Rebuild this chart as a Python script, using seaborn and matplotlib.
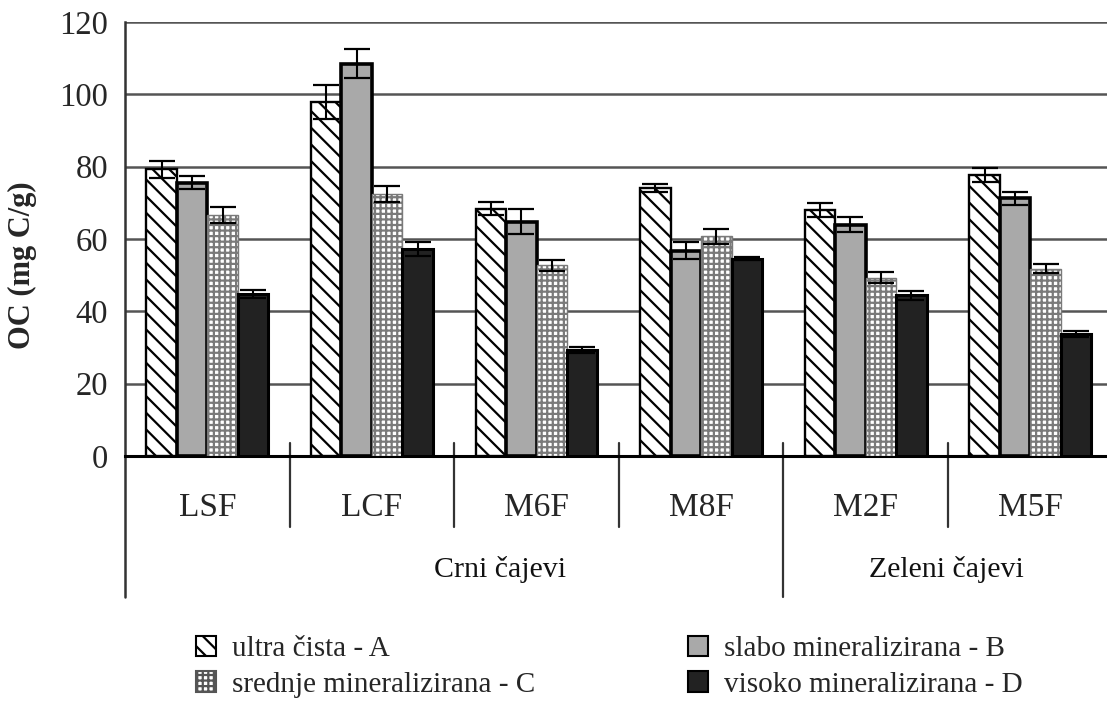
import matplotlib
matplotlib.use('Agg')
import matplotlib.pyplot as plt
import matplotlib.transforms as mtransforms
import seaborn as sns
import pandas as pd
from matplotlib.patches import Patch

categories = ['LSF', 'LCF', 'M6F', 'M8F', 'M2F', 'M5F']
series_names = ['ultra čista - A', 'slabo mineralizirana - B',
                'srednje mineralizirana - C', 'visoko mineralizirana - D']
vals_A = [79.3, 98.0, 68.3, 74.2, 68.0, 77.7]
vals_B = [75.6, 108.4, 64.8, 56.8, 64.0, 71.2]
vals_C = [66.6, 72.4, 52.7, 60.7, 49.3, 51.8]
vals_D = [44.8, 57.3, 29.4, 54.5, 44.4, 33.8]
err_A = [2.4, 4.7, 1.8, 1.1, 1.9, 2.0]
err_B = [1.7, 4.0, 3.4, 2.4, 2.1, 1.9]
err_C = [2.2, 2.2, 1.5, 2.1, 1.6, 1.3]
err_D = [1.0, 2.0, 0.8, 0.4, 1.3, 0.8]
group_names = ['Crni čajevi', 'Zeleni čajevi']
yticks = [0, 20, 40, 60, 80, 100, 120]
ylabel = 'OC (mg C/g)'

values = [vals_A, vals_B, vals_C, vals_D]
errors = [err_A, err_B, err_C, err_D]

rows = []
for s, vals in zip(series_names, values):
    for c, v in zip(categories, vals):
        rows.append({'cat': c, 'series': s, 'val': v})
df = pd.DataFrame(rows)

sns.set_theme(style='white')
plt.rcParams['font.family'] = ['Liberation Serif', 'DejaVu Serif']
plt.rcParams['hatch.linewidth'] = 1.6

W, H = 1107, 709
fig = plt.figure(figsize=(W / 100, H / 100), dpi=100)
ax_left, ax_right, ax_top, ax_bot = 125, 1107, 22, 456
ax = fig.add_axes([ax_left / W, 1 - ax_bot / H, (ax_right - ax_left) / W, (ax_bot - ax_top) / H])

face = ['white', '#a9a9a9', 'white', '#222222']
edge = ['black', 'black', '#7a7a7a', 'black']
lws = [1.7, 2.6, 1.0, 2.2]
BS = chr(92)
hatches = [BS * 2, None, '+++', None]

sns.barplot(data=df, x='cat', y='val', hue='series', order=categories,
            hue_order=series_names, width=0.74, gap=0, errorbar=None,
            palette=face, saturation=1, legend=False, ax=ax)

bar_containers = list(ax.containers)
for i, cont in enumerate(bar_containers):
    xs = []
    for bar in cont.patches:
        bar.set_facecolor(face[i])
        bar.set_edgecolor(edge[i])
        bar.set_linewidth(lws[i])
        if hatches[i]:
            bar.set_hatch(hatches[i])
        bar.set_zorder(3)
        xs.append(bar.get_x() + bar.get_width() / 2)
    ax.errorbar(xs, values[i], yerr=errors[i], fmt='none', ecolor='black',
                elinewidth=1.5, capsize=9.5, capthick=1.6, zorder=5)

group_px = 164.6
ax.set_xlim(-0.5, -0.5 + (ax_right - ax_left) / group_px)
ax.set_ylim(0, 120)
ax.set_yticks(yticks)
ax.set_yticklabels([str(t) for t in yticks])
ax.yaxis.grid(True, color='#555555', lw=1.8)
ax.set_axisbelow(True)
ax.set_xlabel('')
ax.set_ylabel('')
for s in ['top', 'right']:
    ax.spines[s].set_visible(False)
ax.spines['left'].set_color('#333333')
ax.spines['left'].set_linewidth(1.8)
ax.spines['bottom'].set_color('black')
ax.spines['bottom'].set_linewidth(2.2)
ax.tick_params(axis='y', length=0, pad=12, labelsize=23.5)
ax.tick_params(axis='x', length=0, pad=26, labelsize=24)

trans = mtransforms.blended_transform_factory(ax.transData, ax.transAxes)
ah = ax_bot - ax_top
def yf(py):
    return (ax_bot - py) / ah

for xs in [0.5, 1.5, 2.5, 4.5]:
    ax.plot([xs, xs], [yf(443), yf(527)], color='#333333', lw=1.6,
            transform=trans, clip_on=False, zorder=1)
ax.plot([3.5, 3.5], [yf(443), yf(597)], color='#333333', lw=1.6,
        transform=trans, clip_on=False, zorder=1)
ax.plot([-0.5, -0.5], [0, yf(597)], color='#333333', lw=1.8,
        transform=trans, clip_on=False, zorder=1)

gx = [-0.5 + (500 - ax_left) / group_px, -0.5 + (946 - ax_left) / group_px]
for name, x in zip(group_names, gx):
    ax.text(x, yf(577), name, transform=trans, ha='center', va='baseline',
            fontsize=21.5, color='#111111')

fig.text(22 / W, 1 - 265 / H, ylabel, rotation=90, ha='center', va='center',
         fontsize=22, fontweight='bold')

handles = [Patch(facecolor=face[i], edgecolor=edge[i] if i != 2 else '#555555',
                 hatch=hatches[i], linewidth=1.5, label=series_names[i])
           for i in range(4)]
leg_kw = dict(frameon=False, fontsize=21, handlelength=0.7, handleheight=0.7,
              handletextpad=0.55, labelspacing=0.3, borderpad=0, borderaxespad=0,
              loc='upper left')
fig.legend(handles=[handles[0], handles[2]], bbox_to_anchor=(196 / W, 1 - 636 / H), **leg_kw)
fig.legend(handles=[handles[1], handles[3]], bbox_to_anchor=(688 / W, 1 - 636 / H), **leg_kw)

fig.savefig('out.png', dpi=100)
